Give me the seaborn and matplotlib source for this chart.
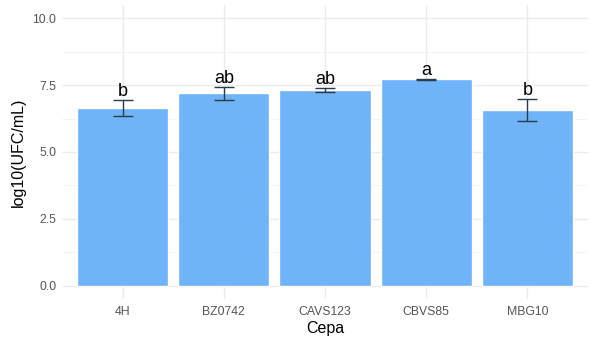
import matplotlib
matplotlib.use("Agg")
import matplotlib.pyplot as plt
import seaborn as sns
import numpy as np
import pandas as pd

cepas = ["4H", "BZ0742", "CAVS123", "CBVS85", "MBG10"]
means = [6.64, 7.19, 7.32, 7.72, 6.58]
sds = [0.31, 0.26, 0.09, 0.02, 0.41]
letters = ["b", "ab", "ab", "a", "b"]
yticks = [0.0, 2.5, 5.0, 7.5, 10.0]

sns.set_theme(style="whitegrid")
plt.rcParams["font.family"] = ["Liberation Sans", "DejaVu Sans"]

df = pd.DataFrame({"Cepa": cepas, "mean": means, "sd": sds})

fig = plt.figure(figsize=(6.13, 3.40), dpi=100)
ax = fig.add_axes([62 / 613, 1 - 299 / 340, (588 - 62) / 613, (299 - 5) / 340])

sns.barplot(data=df, x="Cepa", y="mean", color="#6FB3F8", saturation=1,
            width=0.9, errorbar=None, ax=ax, zorder=2)

x = np.arange(len(cepas))
ax.errorbar(x, means, yerr=sds, fmt="none", ecolor="#2c3a4c", elinewidth=1.0,
            capsize=7.5, capthick=1.0, zorder=3)

for xi, m, s, lab in zip(x, means, sds, letters):
    ax.text(xi, m + s + 0.13, lab, ha="center", va="baseline", fontsize=13,
            color="black", zorder=4)

ax.set_ylim(-0.5, 10.5)
ax.set_xlim(-0.6, len(cepas) - 0.4)
ax.set_yticks(yticks)
ax.set_yticklabels([f"{v:.1f}" for v in yticks])
ax.set_yticks([1.25, 3.75, 6.25, 8.75], minor=True)

ax.grid(True, which="major", axis="both", color="#ebebeb", linewidth=1.0, zorder=0)
ax.grid(True, which="minor", axis="y", color="#f3f3f3", linewidth=0.6, zorder=0)
ax.set_axisbelow(True)
for sp in ax.spines.values():
    sp.set_visible(False)
ax.set_facecolor("white")

ax.tick_params(axis="both", which="both", length=0, labelsize=8.8, labelcolor="#555555")
ax.tick_params(axis="x", pad=5)
ax.tick_params(axis="y", pad=4)
ax.set_xlabel("Cepa", fontsize=11.5, color="black", labelpad=2)
ax.set_ylabel("log10(UFC/mL)", fontsize=11.5, color="black", labelpad=5)

fig.savefig("out.png", dpi=100, facecolor="white")
